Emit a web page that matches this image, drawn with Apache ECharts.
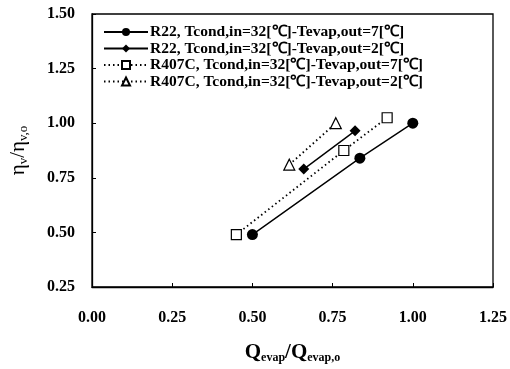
<!DOCTYPE html>
<html>
<head>
<meta charset="utf-8">
<script src="https://cdn.jsdelivr.net/npm/echarts@6/dist/echarts.min.js"></script>
<style>
  html, body { margin: 0; padding: 0; background: #fff; }
  #chart { width: 510px; height: 369px; }
</style>
</head>
<body>
<div id="chart"></div>
<script>
// Volumetric efficiency ratio vs. capacity ratio
const seriesNames = [
  'R22, Tcond,in=32[\u2103]-Tevap,out=7[\u2103]',
  'R22, Tcond,in=32[\u2103]-Tevap,out=2[\u2103]',
  'R407C, Tcond,in=32[\u2103]-Tevap,out=7[\u2103]',
  'R407C, Tcond,in=32[\u2103]-Tevap,out=2[\u2103]'
];
const r22Out7 = [[0.50, 0.49], [0.835, 0.84], [1.00, 1.00]];
const r22Out2 = [[0.66, 0.79], [0.82, 0.965]];
const r407cOut7 = [[0.45, 0.49], [0.785, 0.875], [0.92, 1.025]];
const r407cOut2 = [[0.615, 0.81], [0.76, 1.00]];
const xTicks = [0, 0.25, 0.5, 0.75, 1.0, 1.25];
const yTicks = [0.25, 0.5, 0.75, 1.0, 1.25, 1.5];

const font = 'Liberation Serif';
const black = '#000';

function lineSeries(name, data, symbol, filled, dotted) {
  return {
    name: name,
    type: 'line',
    data: data,
    symbol: symbol,
    symbolSize: symbol === 'rect' ? 10 : 11,
    lineStyle: { color: black, width: dotted ? 1.8 : 1.4, type: dotted ? [1.5, 3] : 'solid' },
    itemStyle: { color: filled ? black : '#fff', borderColor: black, borderWidth: filled ? 0 : 1.2 },
    emphasis: { disabled: true },
    animation: false
  };
}

const chart = echarts.init(document.getElementById('chart'), null, { renderer: 'canvas' });
chart.setOption({
  backgroundColor: '#fff',
  animation: false,
  grid: { left: 85, top: 14, right: 15, bottom: 77, show: true, borderColor: black, borderWidth: 1.3, backgroundColor: 'transparent' },
  legend: {
    orient: 'vertical',
    left: 103,
    top: 24,
    padding: 0,
    borderWidth: 0,
    itemWidth: 44,
    itemHeight: 10,
    itemGap: 0.5,
    data: seriesNames,
    textStyle: { fontFamily: font, fontWeight: 'bold', fontSize: 15.5, color: black, padding: [0, 0, 0, -3] }
  },
  xAxis: {
    type: 'value',
    min: xTicks[0],
    max: xTicks[xTicks.length - 1],
    interval: 0.25,
    axisLine: { lineStyle: { color: black, width: 1.3 } },
    axisTick: { inside: true, length: 4, lineStyle: { color: black } },
    splitLine: { show: false },
    axisLabel: { fontFamily: font, fontWeight: 'bold', fontSize: 16, color: black, margin: 23, formatter: v => v.toFixed(2) },
    name: '{b|Q}{s|evap}{b|/Q}{s|evap,o}',
    nameLocation: 'middle',
    nameGap: 54,
    nameTextStyle: {
      rich: {
        b: { fontFamily: font, fontWeight: 'bold', fontSize: 21, color: black },
        s: { fontFamily: font, fontWeight: 'bold', fontSize: 12, color: black, padding: [11, 0, 0, 0] }
      }
    }
  },
  yAxis: {
    type: 'value',
    min: yTicks[0],
    max: yTicks[yTicks.length - 1],
    interval: 0.25,
    axisLine: { lineStyle: { color: black, width: 1.3 } },
    axisTick: { inside: true, length: 4, lineStyle: { color: black } },
    splitLine: { show: false },
    axisLabel: { fontFamily: font, fontWeight: 'bold', fontSize: 16, color: black, margin: 17, formatter: v => v.toFixed(2) },
    name: '{b|\u03b7}{s|v}{b|/\u03b7}{s|v,o}',
    nameLocation: 'middle',
    nameRotate: 90,
    nameGap: 62,
    nameTextStyle: {
      rich: {
        b: { fontFamily: font, fontSize: 21, color: black },
        s: { fontFamily: font, fontSize: 13, color: black, padding: [10, 0, 0, 0] }
      }
    }
  },
  series: [
    lineSeries(seriesNames[0], r22Out7, 'circle', true, false),
    lineSeries(seriesNames[1], r22Out2, 'diamond', true, false),
    lineSeries(seriesNames[2], r407cOut7, 'rect', false, true),
    lineSeries(seriesNames[3], r407cOut2, 'triangle', false, true)
  ]
});
</script>
</body>
</html>
